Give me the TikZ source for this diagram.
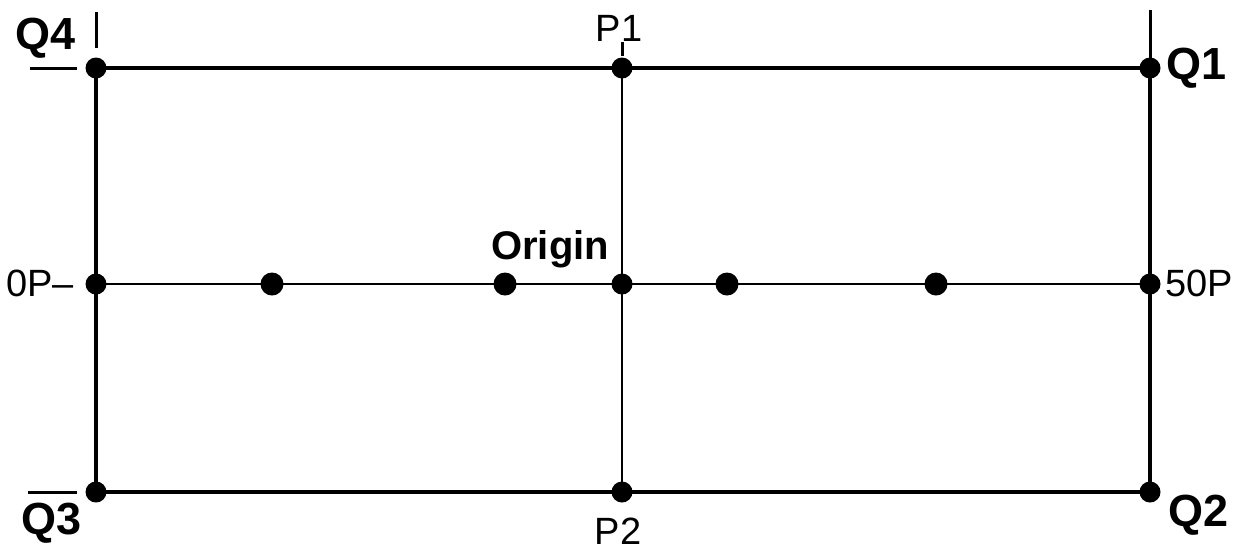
\documentclass[tikz,border=0pt]{standalone}
\usepackage{fontspec}
\setmainfont{Liberation Sans}
\begin{document}
\begin{tikzpicture}[x=1pt,y=-1pt,
  dot/.style={circle,fill=black,inner sep=0pt,minimum size=21pt},
  bigdot/.style={circle,fill=black,inner sep=0pt,minimum size=23pt},
  outer/.style={line width=4pt},
  inner/.style={line width=2.4pt},
  tick/.style={line width=3pt},
  lbl/.style={inner sep=0pt,font=\fontsize{38}{42}\selectfont},
  blbl/.style={inner sep=0pt,font=\fontsize{45}{48}\selectfont\bfseries},
  olbl/.style={inner sep=0pt,font=\fontsize{40}{44}\selectfont\bfseries}]
\useasboundingbox (0,0) rectangle (1238,550);
% coordinates
\coordinate (q4) at (96,68);
\coordinate (p1) at (622,68);
\coordinate (q1) at (1150,68);
\coordinate (l0) at (96,284);
\coordinate (m1) at (272,284);
\coordinate (m2) at (505,284);
\coordinate (o) at (622,284);
\coordinate (m3) at (727,284);
\coordinate (m4) at (936,284);
\coordinate (r0) at (1150,284);
\coordinate (q3) at (96,492);
\coordinate (p2) at (622,492);
\coordinate (q2) at (1150,492);
% tick ends
\coordinate (q4t1) at (96,12);
\coordinate (q4t2) at (96,48);
\coordinate (q4h1) at (30,68);
\coordinate (q4h2) at (77,68);
\coordinate (p1t1) at (622,42);
\coordinate (p1t2) at (622,56);
\coordinate (q1t) at (1150,10);
\coordinate (q3h1) at (28,492);
\coordinate (q3h2) at (77,492);
% lines
\draw[outer] (q4) -- (q1) -- (q2) -- (q3) -- cycle;
\draw[inner] (l0) -- (r0);
\draw[line width=2pt] (p1) -- (p2);
\draw[tick] (q4t1) -- (q4t2);
\draw[tick] (q4h1) -- (q4h2);
\draw[tick] (p1t1) -- (p1t2);
\draw[tick] (q1) -- (q1t);
\draw[tick] (q3h1) -- (q3h2);
% dots
\foreach \c in {q4,p1,q1,l0,o,r0,q3,p2,q2}
  \node[dot] (d\c) at (\c) {};
\foreach \c in {m1,m2,m3,m4}
  \node[bigdot] (d\c) at (\c) {};
% labels
\node[blbl,anchor=base west] (tq4) at (15,49) {Q4};
\node[lbl,anchor=base] (tp1) at (619,41) {P1};
\node[blbl,anchor=base west] (tq1) at (1166,79) {Q1};
\node[lbl,anchor=base west] (t0p) at (6,296) {0P–};
\node[lbl,anchor=base west] (t50) at (1165,296) {50P};
\node[blbl,anchor=base west] (tq3) at (21,534) {Q3};
\node[lbl,anchor=base] (tp2) at (618,544) {P2};
\node[blbl,anchor=base west] (tq2) at (1168,526) {Q2};
\node[olbl,anchor=base west] (tor) at (491,259) {Origin};
\end{tikzpicture}
\end{document}
